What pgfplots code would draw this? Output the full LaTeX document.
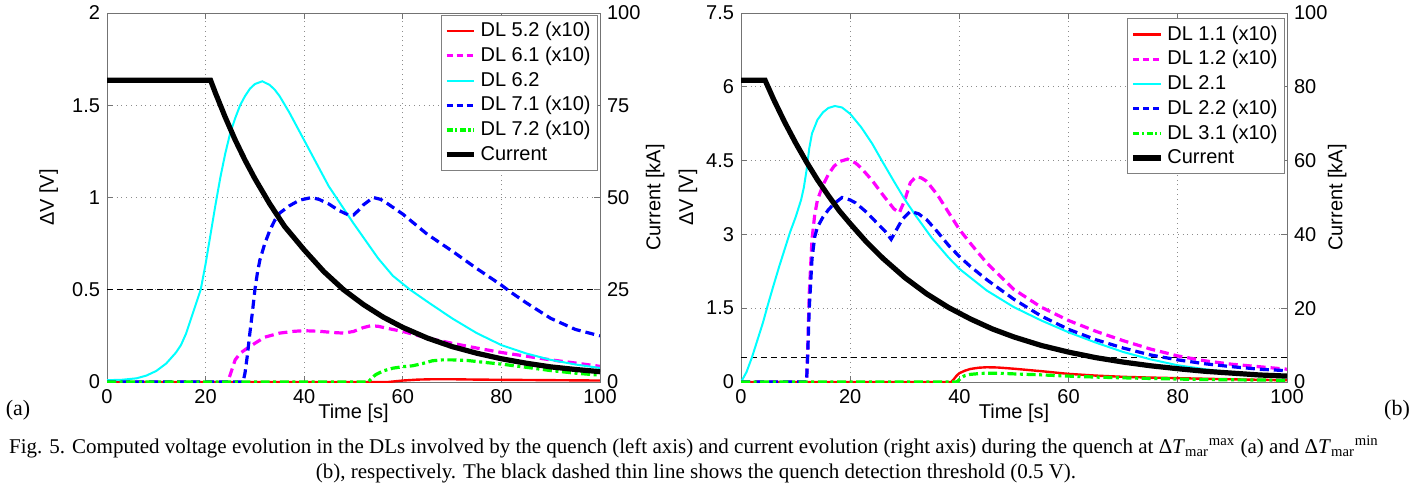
\documentclass[border=0pt]{standalone}
\usepackage{fontspec}
\setmainfont{Liberation Sans}
\newfontfamily\capfont{Liberation Serif}
\usepackage{pgfplots}
\pgfplotsset{compat=1.18}
\definecolor{mred}{RGB}{255,0,0}
\definecolor{mmag}{RGB}{255,0,255}
\definecolor{mcyan}{RGB}{0,255,255}
\definecolor{mblue}{RGB}{0,0,255}
\definecolor{mgreen}{RGB}{0,255,0}
\pgfplotsset{
  mybase/.style={
    scale only axis, height=184.5pt,
    xmin=0, xmax=100,
    tick label style={font=\fontsize{10}{12}\selectfont},
    label style={font=\fontsize{10}{12}\selectfont},
    /pgf/number format/assume math mode=true,
    tick align=inside,
    major tick length=3pt,
    axis line style={black!55},
    every tick/.style={black!55},
  },
  legstyle/.style={
    legend cell align=left,
    legend style={draw=black!50, fill=white, font=\fontsize{10}{12}\selectfont,
      inner sep=1.5pt, row sep=-0.3pt},
    legend image code/.code={\draw[##1] (0cm,0cm) -- (0.48cm,0cm);},
  },
  dashstyle/.style={dash pattern=on 4.5pt off 2.5pt},
  dashdotstyle/.style={dash pattern=on 4.5pt off 1.8pt on 1.5pt off 1.8pt},
}
\begin{document}
\begin{tikzpicture}
\path[use as bounding box] (0,0) rectangle (708pt,244.5pt);
% ---------------- left plot (a) ----------------
\begin{axis}[mybase, at={(53.5pt,53.5pt)}, anchor=south west, width=246.5pt,
  ymin=0, ymax=2, ytick={0,0.5,1,1.5,2}, xtick={0,20,...,100},
  ytick pos=left,
  grid=major, grid style={black!45, dotted, line width=0.5pt},
  xlabel={Time [s]}, ylabel={ΔV [V]},
  xlabel style={at={(axis description cs:0.5,-0.084)}, anchor=center},
  ylabel style={at={(axis description cs:-0.118,0.5)}, anchor=center},
]
\addplot[black, line width=0.6pt, dash pattern=on 3pt off 2pt] coordinates {(0,0.5) (100,0.5)};
\addplot[mred, line width=1.2pt] coordinates {(0,0) (57,0) (60,0.008) (63,0.013) (66,0.015) (70,0.015) (75,0.013) (80,0.012) (90,0.010) (100,0.008)};
\addplot[mmag, line width=1.6pt, dashstyle] coordinates {(0,0) (24.5,0) (25,0.04) (26,0.12) (27,0.155) (28,0.175) (30,0.21) (32,0.243) (35,0.265) (38,0.275) (40,0.278) (43,0.275) (46,0.268) (48,0.265) (50,0.274) (52,0.295) (53.5,0.305) (55,0.302) (57,0.29) (60,0.274) (65,0.238) (70,0.21) (75,0.184) (80,0.16) (85,0.14) (90,0.12) (95,0.103) (100,0.085)};
\addplot[mcyan, line width=1pt] coordinates {(0,0.01) (3,0.012) (6,0.02) (8,0.035) (10,0.06) (12,0.1) (13,0.13) (14,0.16) (15,0.2) (16,0.26) (17,0.34) (18,0.42) (19,0.5) (20,0.64) (21,0.8) (22,0.96) (23,1.11) (24,1.24) (25,1.35) (26,1.43) (27,1.5) (28,1.55) (29,1.59) (30,1.615) (31.5,1.63) (33,1.61) (34,1.585) (35,1.55) (37,1.46) (40,1.31) (42,1.21) (45,1.06) (50,0.86) (55,0.67) (58,0.575) (61.5,0.5) (65,0.435) (70,0.345) (75,0.265) (80,0.2) (85,0.155) (90,0.12) (95,0.095) (100,0.076)};
\addplot[mblue, line width=1.6pt, dashstyle] coordinates {(0,0) (27.6,0) (28,0.05) (28.5,0.15) (29,0.27) (29.5,0.38) (30,0.5) (30.5,0.59) (31,0.66) (32,0.75) (33,0.82) (34,0.875) (35,0.915) (37,0.955) (39,0.985) (41.5,1.0) (43,0.99) (45,0.965) (47,0.93) (49,0.905) (50,0.905) (51,0.93) (52,0.96) (54,1.0) (55.5,0.99) (57,0.965) (60,0.91) (65,0.8) (70,0.71) (75,0.615) (80,0.525) (82,0.485) (85,0.43) (90,0.345) (95,0.285) (100,0.25)};
\addplot[mgreen, line width=1.6pt, dashdotstyle] coordinates {(0,0) (53,0) (53.5,0.015) (54.5,0.04) (56,0.06) (58,0.075) (60,0.083) (62,0.088) (64,0.1) (66,0.115) (68,0.12) (70,0.12) (73,0.117) (76,0.108) (80,0.097) (85,0.08) (90,0.062) (95,0.048) (100,0.037)};
\end{axis}
\begin{axis}[mybase, legstyle, at={(53.5pt,53.5pt)}, anchor=south west, width=246.5pt,
  axis x line=none, axis y line*=right,
  ymin=0, ymax=100, ytick={0,25,50,75,100},
  ylabel={Current [kA]},
  ylabel style={at={(axis description cs:1.112,0.5)}, anchor=center},
  legend style={at={(0.996,0.995)}, anchor=north east},
]
\addlegendimage{mred, line width=1.2pt}\addlegendentry{DL 5.2 (x10)}
\addlegendimage{mmag, line width=1.6pt, dash pattern=on 3pt off 2pt}\addlegendentry{DL 6.1 (x10)}
\addlegendimage{mcyan, line width=1pt}\addlegendentry{DL 6.2}
\addlegendimage{mblue, line width=1.6pt, dash pattern=on 3pt off 2pt}\addlegendentry{DL 7.1 (x10)}
\addlegendimage{mgreen, line width=1.6pt, dash pattern=on 3pt off 1.2pt on 1.2pt off 1.2pt}\addlegendentry{DL 7.2 (x10)}
\addplot[black, line width=2.6pt] coordinates {(0,81.8) (21,81.8) (22,78.3) (24,71.7) (26,65.6) (28,60.1) (30,55.1) (33,48.3) (36,42.2) (40,35.8) (44,29.9) (48,25.0) (52,21.0) (56,17.6) (60,14.8) (65,11.9) (70,9.6) (75,7.8) (80,6.3) (85,5.1) (90,4.1) (95,3.4) (100,2.8)};
\addlegendentry{Current}
\end{axis}
% ---------------- right plot (b) ----------------
\begin{axis}[mybase, at={(370.5pt,53.5pt)}, anchor=south west, width=273pt,
  ymin=0, ymax=7.5, ytick={0,1.5,3,4.5,6,7.5}, xtick={0,20,...,100},
  ytick pos=left,
  grid=major, grid style={black!45, dotted, line width=0.5pt},
  xlabel={Time [s]}, ylabel={ΔV [V]},
  xlabel style={at={(axis description cs:0.5,-0.084)}, anchor=center},
  ylabel style={at={(axis description cs:-0.097,0.5)}, anchor=center},
]
\addplot[black, line width=0.6pt, dash pattern=on 3pt off 2pt] coordinates {(0,0.5) (100,0.5)};
\addplot[mred, line width=1.2pt] coordinates {(0,0) (38.5,0) (39,0.06) (39.5,0.13) (40,0.18) (41,0.23) (42,0.265) (43.5,0.29) (45,0.3) (47,0.295) (50,0.27) (55,0.22) (60,0.165) (65,0.13) (70,0.105) (75,0.09) (80,0.078) (85,0.066) (90,0.055) (95,0.045) (100,0.035)};
\addplot[mmag, line width=1.6pt, dashstyle] coordinates {(0,0) (12,0) (12.2,0.6) (12.5,1.8) (13,2.9) (13.5,3.4) (14,3.7) (15,4.0) (16,4.22) (17,4.38) (18,4.48) (19.5,4.53) (21,4.45) (22,4.35) (24,4.1) (26,3.8) (28,3.52) (29,3.44) (30,3.7) (31,4.05) (32,4.17) (33,4.15) (34,4.08) (36,3.8) (38,3.45) (40,3.1) (42,2.82) (45,2.42) (50,1.88) (55,1.52) (60,1.25) (65,1.03) (70,0.84) (75,0.67) (80,0.53) (85,0.43) (90,0.36) (95,0.31) (100,0.26)};
\addplot[mcyan, line width=1pt] coordinates {(0,0) (1,0.2) (2,0.5) (3,0.85) (4,1.2) (5,1.6) (6,1.98) (7,2.35) (8,2.7) (9,3.05) (10,3.35) (11,3.7) (11.5,3.95) (12,4.3) (12.5,4.75) (13,5.05) (14,5.33) (15,5.48) (16,5.57) (17.2,5.61) (18.5,5.58) (20,5.45) (22,5.18) (24,4.85) (26,4.46) (28,4.08) (30,3.71) (32,3.38) (35,2.92) (38,2.53) (40,2.3) (45,1.86) (50,1.52) (55,1.25) (60,1.01) (65,0.8) (70,0.61) (75,0.46) (80,0.34) (85,0.26) (90,0.19) (95,0.15) (100,0.115)};
\addplot[mblue, line width=1.6pt, dashstyle] coordinates {(0,0) (12,0) (12.2,0.5) (12.5,1.5) (13,2.5) (13.5,2.95) (14,3.15) (15,3.35) (16,3.5) (17,3.62) (18.5,3.75) (20,3.7) (21,3.64) (23,3.45) (25,3.22) (26.5,3.05) (27.5,2.9) (28.5,3.1) (29.5,3.3) (31,3.47) (32.5,3.42) (34,3.3) (36,3.05) (38,2.78) (40,2.55) (42,2.35) (45,2.08) (50,1.68) (55,1.34) (60,1.07) (65,0.86) (70,0.69) (75,0.55) (80,0.45) (85,0.37) (90,0.31) (95,0.26) (100,0.23)};
\addplot[mgreen, line width=1.6pt, dashdotstyle] coordinates {(0,0) (39.5,0) (40,0.05) (40.5,0.1) (41,0.13) (42,0.155) (44,0.175) (46,0.18) (48,0.175) (50,0.165) (55,0.145) (60,0.12) (65,0.1) (70,0.085) (75,0.072) (80,0.06) (85,0.05) (90,0.045) (95,0.04) (100,0.035)};
\end{axis}
\begin{axis}[mybase, legstyle, at={(370.5pt,53.5pt)}, anchor=south west, width=273pt,
  axis x line=none, axis y line*=right,
  ymin=0, ymax=100, ytick={0,20,40,60,80,100},
  ylabel={Current [kA]},
  ylabel style={at={(axis description cs:1.092,0.5)}, anchor=center},
  legend style={at={(0.996,0.986)}, anchor=north east},
]
\addlegendimage{mred, line width=1.2pt}\addlegendentry{DL 1.1 (x10)}
\addlegendimage{mmag, line width=1.6pt, dash pattern=on 3pt off 2pt}\addlegendentry{DL 1.2 (x10)}
\addlegendimage{mcyan, line width=1pt}\addlegendentry{DL 2.1}
\addlegendimage{mblue, line width=1.6pt, dash pattern=on 3pt off 2pt}\addlegendentry{DL 2.2 (x10)}
\addlegendimage{mgreen, line width=1.6pt, dash pattern=on 3pt off 1.2pt on 1.2pt off 1.2pt}\addlegendentry{DL 3.1 (x10)}
\addplot[black, line width=2.6pt] coordinates {(0,81.8) (4.4,81.8) (6,76.5) (8,70.4) (10,64.8) (12,59.6) (14,54.8) (16,50.5) (18,46.4) (20,42.9) (23,37.9) (26,33.5) (30,28.3) (34,23.9) (38,20.2) (42,17.1) (46,14.4) (50,12.2) (55,9.9) (60,8.1) (65,6.6) (70,5.4) (75,4.4) (80,3.6) (85,2.9) (90,2.4) (95,1.9) (100,1.6)};
\addlegendentry{Current}
\end{axis}
% ---------------- labels and caption ----------------
\node[font=\capfont\fontsize{11}{13}\selectfont, anchor=base] at (9pt,37pt) {(a)};
\node[font=\capfont\fontsize{11}{13}\selectfont, anchor=base] at (698.5pt,37pt) {(b)};
\node[font=\capfont\fontsize{10.5}{12}\selectfont, inner sep=0pt, anchor=base] at (347pt,18pt) {Fig. 5. Computed voltage evolution in the DLs involved by the quench (left axis) and current evolution (right axis) during the quench at Δ\textit{T}\textsubscript{mar}\textsuperscript{max} (a) and Δ\textit{T}\textsubscript{mar}\textsuperscript{min}};
\node[font=\capfont\fontsize{10.5}{12}\selectfont, inner sep=0pt, anchor=base] at (348pt,5.5pt) {(b), respectively. The black dashed thin line shows the quench detection threshold (0.5 V).};
\end{tikzpicture}
\end{document}
